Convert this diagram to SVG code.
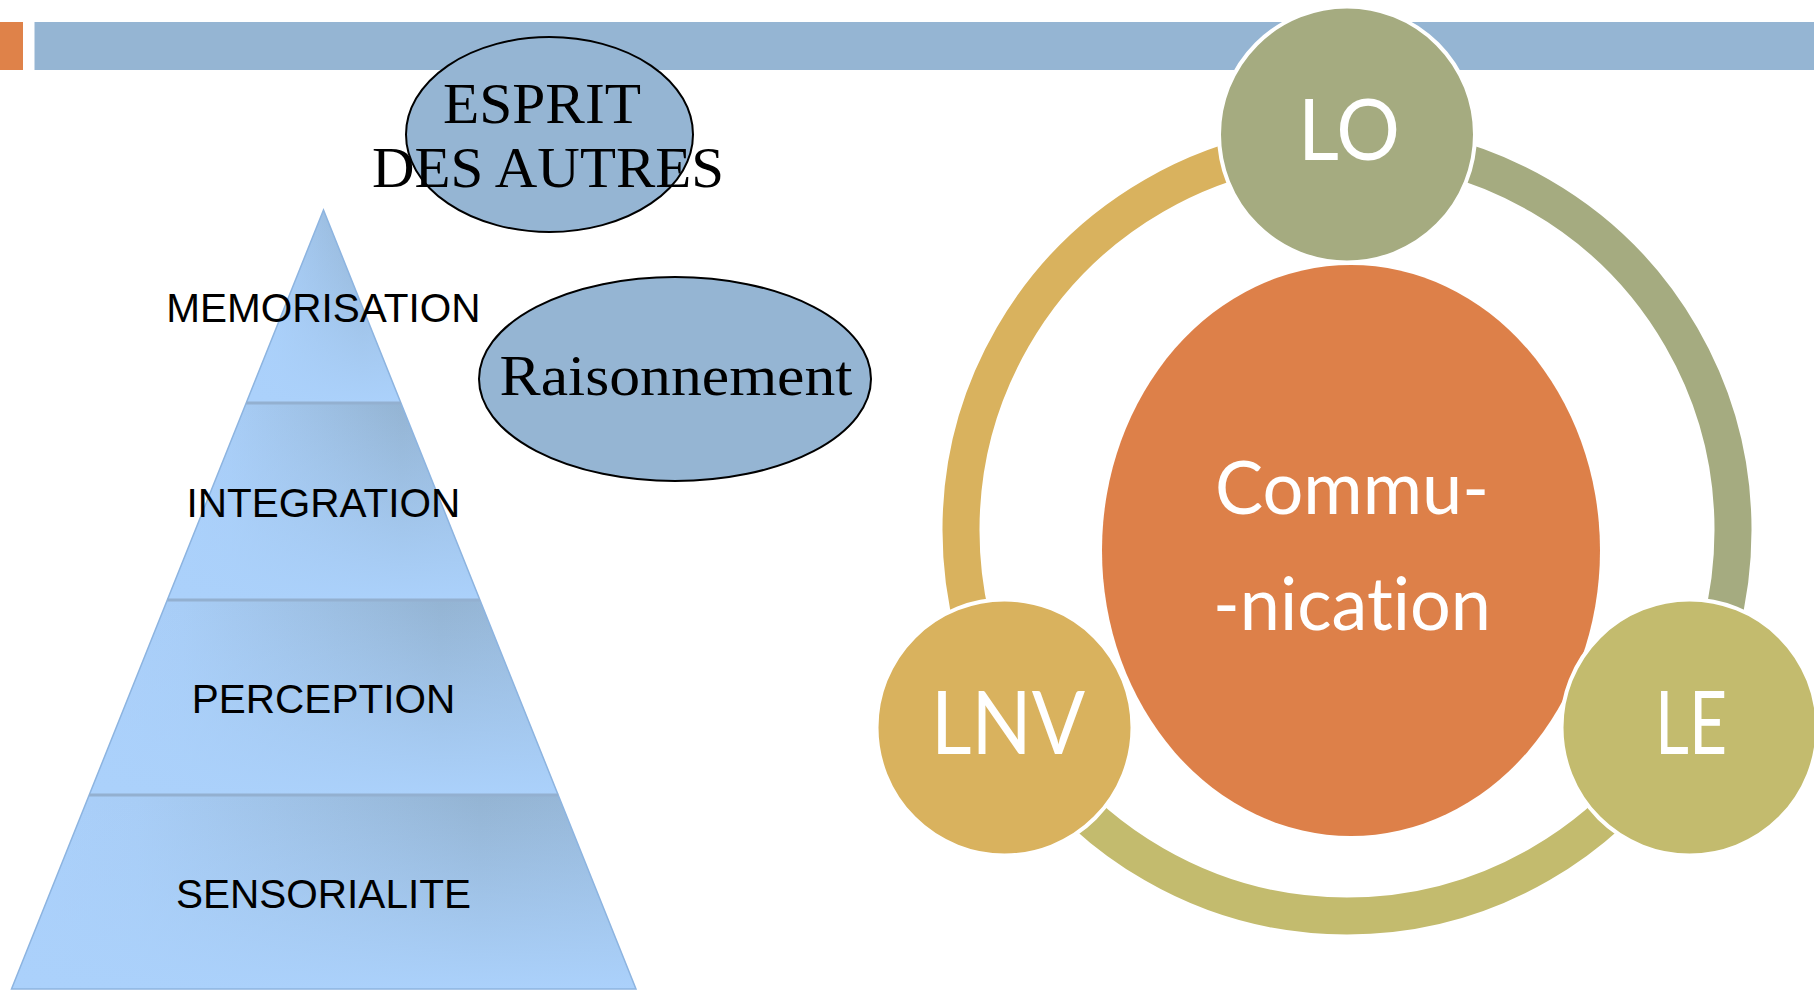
<svg xmlns="http://www.w3.org/2000/svg" width="1814" height="990" viewBox="0 0 1814 990">
  <style>
    .lvl { font-family: "Liberation Sans", Arial, sans-serif; font-size: 40.5px; fill: #000; text-anchor: middle; }
    .serif { font-family: "Liberation Serif", "Times New Roman", serif; fill: #000; text-anchor: middle; }
    .bubble { fill: #95b5d3; stroke: #000; stroke-width: 2; }
    .node { stroke: #fff; stroke-width: 4; }
    .nodetxt { font-family: Lato, "Open Sans", sans-serif; fill: #fff; text-anchor: middle; font-variant-ligatures: none; font-feature-settings: "liga" 0, "clig" 0; }
    .arc { fill: none; stroke-width: 37; }
    .band { stroke: none; }
    .div { stroke: #93b0d0; stroke-width: 3; }
  </style>
  <defs>
    <linearGradient id="hg" x1="0" y1="0" x2="1" y2="0">
      <stop offset="0" stop-color="#abd0fb"/>
      <stop offset="0.2" stop-color="#a8cdf6"/>
      <stop offset="0.75" stop-color="#94b4d3"/>
      <stop offset="1" stop-color="#98b9da"/>
    </linearGradient>
    <linearGradient id="vg" x1="0" y1="0" x2="0" y2="1">
      <stop offset="0" stop-color="#abd1fb" stop-opacity="0"/>
      <stop offset="1" stop-color="#abd1fb" stop-opacity="1"/>
    </linearGradient>
  </defs>

  <rect id="header-accent" x="0" y="22" width="23" height="48" fill="#df8249"/>
  <rect id="header-bar" x="34.5" y="22" width="1780" height="48" fill="#95b5d3"/>

  <g id="pyramid">
    <polygon class="band" points="323.5,210 400.9,403 246.2,403" fill="url(#hg)"/>
    <polygon class="band" points="323.5,210 400.9,403 246.2,403" fill="url(#vg)"/>
    <polygon class="band" points="246.2,403 400.9,403 480,600 167.3,600" fill="url(#hg)"/>
    <polygon class="band" points="246.2,403 400.9,403 480,600 167.3,600" fill="url(#vg)"/>
    <polygon class="band" points="167.3,600 480,600 558.2,795 89.2,795" fill="url(#hg)"/>
    <polygon class="band" points="167.3,600 480,600 558.2,795 89.2,795" fill="url(#vg)"/>
    <polygon class="band" points="89.2,795 558.2,795 636,989 11.5,989" fill="url(#hg)"/>
    <polygon class="band" points="89.2,795 558.2,795 636,989 11.5,989" fill="url(#vg)"/>
    <polygon points="323.5,210 636,989 11.5,989" fill="none" stroke="#8db4e0" stroke-width="1.5"/>
    <line class="div" x1="246.2" y1="403" x2="400.9" y2="403"/>
    <line class="div" x1="167.3" y1="600" x2="480" y2="600"/>
    <line class="div" x1="89.2" y1="795" x2="558.2" y2="795"/>
    <text class="lvl" x="323.5" y="322">MEMORISATION</text>
    <text class="lvl" x="323.5" y="517">INTEGRATION</text>
    <text class="lvl" x="323.5" y="713">PERCEPTION</text>
    <text class="lvl" x="323.5" y="908">SENSORIALITE</text>
  </g>

  <g id="esprit">
    <ellipse class="bubble" cx="549.5" cy="134.5" rx="143.5" ry="97.5"/>
    <text class="serif" x="542" y="123" font-size="58" textLength="198" lengthAdjust="spacingAndGlyphs">ESPRIT</text>
    <text class="serif" x="548" y="187" font-size="58" textLength="352" lengthAdjust="spacingAndGlyphs">DES AUTRES</text>
  </g>

  <g id="raisonnement">
    <ellipse class="bubble" cx="675" cy="379" rx="196" ry="102"/>
    <text class="serif" x="676" y="395" font-size="56" textLength="353" lengthAdjust="spacingAndGlyphs">Raisonnement</text>
  </g>

  <g id="connectors">
    <path class="arc" stroke="#a5ab80" d="M 1347 144 A 386 386 0 0 1 1681.3 723"/>
    <path class="arc" stroke="#c3bb6e" d="M 1681.3 723 A 386 386 0 0 1 1012.7 723"/>
    <path class="arc" stroke="#d9b25e" d="M 1012.7 723 A 386 386 0 0 1 1347 144"/>
  </g>

  <g id="communication">
    <ellipse cx="1351" cy="550.5" rx="249" ry="285.5" fill="#dd8049"/>
    <text class="nodetxt" x="1352" y="514" font-size="74" textLength="274" lengthAdjust="spacingAndGlyphs">Commu-</text>
    <text class="nodetxt" x="1352" y="630" font-size="74" textLength="278" lengthAdjust="spacingAndGlyphs">-nication</text>
  </g>

  <g id="LO">
    <circle class="node" cx="1347" cy="134.5" r="128" fill="#a5ab80"/>
    <text class="nodetxt" x="1349" y="160" font-size="86" textLength="102" lengthAdjust="spacingAndGlyphs">LO</text>
  </g>

  <g id="LNV">
    <circle class="node" cx="1004.5" cy="727.5" r="128" fill="#d9b25e"/>
    <text class="nodetxt" x="1008" y="754" font-size="88" textLength="154" lengthAdjust="spacingAndGlyphs">LNV</text>
  </g>

  <g id="LE">
    <circle class="node" cx="1689.5" cy="727.5" r="128" fill="#c3bb6e"/>
    <text class="nodetxt" x="1691" y="754" font-size="88" textLength="72" lengthAdjust="spacingAndGlyphs">LE</text>
  </g>
</svg>
